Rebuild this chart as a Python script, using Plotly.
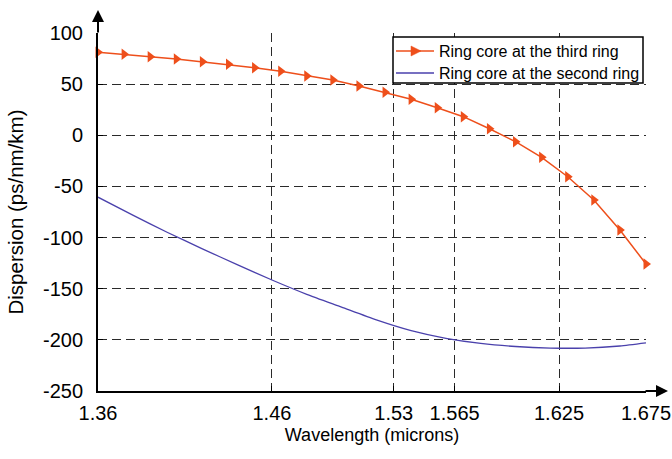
import plotly.graph_objects as go

# Data
wl_third = [1.36, 1.375, 1.39, 1.405, 1.42, 1.435, 1.45, 1.465, 1.48, 1.495, 1.51, 1.525,
            1.54, 1.555, 1.57, 1.585, 1.60, 1.615, 1.63, 1.645, 1.66, 1.675]
disp_third = [81.1, 79.2, 76.8, 74.6, 71.9, 69.4, 66.1, 62.6, 58.0, 54.1, 48.2, 42.0,
              35.2, 27.0, 18.2, 6.4, -6.3, -21.5, -40.5, -63.3, -92.6, -125.8]

wl_second = [1.36, 1.38, 1.40, 1.42, 1.44, 1.46, 1.48, 1.50, 1.52, 1.54, 1.56, 1.58,
             1.60, 1.62, 1.64, 1.66, 1.675]
disp_second = [-60.5, -78.0, -95.0, -111.0, -126.5, -141.5, -155.5, -168.0, -180.5, -191.0,
               -198.5, -203.5, -206.5, -208.0, -208.0, -206.0, -203.0]

series_names = ["Ring core at the third ring", "Ring core at the second ring"]

x_ticks = [1.36, 1.46, 1.53, 1.565, 1.625, 1.675]
x_tick_labels = ["1.36", "1.46", "1.53", "1.565", "1.625", "1.675"]
y_ticks = [100, 50, 0, -50, -100, -150, -200, -250]
y_tick_labels = ["100", "50", "0", "-50", "-100", "-150", "-200", "-250"]

FONT = "Liberation Sans, Arial, sans-serif"
RED = "#EE4F1B"
BLUE = "#4A41AC"

W, H = 672, 459
ML, MR, MT, MB = 98, 26, 33, 68
PW, PH = W - ML - MR, H - MT - MB


def px(xp):
    return (xp - ML) / PW


def py(yp):
    return (H - MB - yp) / PH


fig = go.Figure()
fig.add_trace(go.Scatter(
    x=wl_third, y=disp_third, mode="lines+markers",
    name=series_names[0],
    line=dict(color=RED, width=1.5),
    marker=dict(symbol="triangle-right", size=10, color=RED),
    cliponaxis=False, showlegend=False,
))
fig.add_trace(go.Scatter(
    x=wl_second, y=disp_second, mode="lines",
    name=series_names[1],
    line=dict(color=BLUE, width=1.3, shape="spline", smoothing=0.6),
    cliponaxis=False, showlegend=False,
))

fig.update_layout(
    width=W, height=H,
    margin=dict(l=ML, r=MR, t=MT, b=MB, autoexpand=False),
    paper_bgcolor="white", plot_bgcolor="white",
    font=dict(family=FONT, color="black"),
    showlegend=False,
)

fig.update_xaxes(
    range=[1.36, 1.675], tickvals=x_ticks, ticktext=x_tick_labels,
    automargin=False,
    showgrid=True, gridcolor="#2a2a2a", gridwidth=1.3, griddash="9px,5px",
    showline=True, linecolor="black", linewidth=2,
    ticks="inside", ticklen=5, tickcolor="black",
    ticklabelstandoff=3,
    tickfont=dict(size=20, family=FONT, color="black"),
    title=dict(text="Wavelength (microns)", font=dict(size=18, family=FONT, color="black"),
               standoff=5),
    zeroline=False,
)
fig.update_yaxes(
    range=[-250, 100], tickvals=y_ticks, ticktext=y_tick_labels,
    automargin=False,
    showgrid=True, gridcolor="#2a2a2a", gridwidth=1.3, griddash="9px,5px",
    showline=True, linecolor="black", linewidth=2,
    ticks="inside", ticklen=5, tickcolor="black",
    ticklabelstandoff=9,
    tickfont=dict(size=20, family=FONT, color="black"),
    title=dict(text="Dispersion (ps/nm/km)", font=dict(size=20.5, family=FONT, color="black"),
               standoff=14),
    zeroline=False,
)

# axis arrows
fig.add_annotation(x=0, y=py(10), xref="paper", yref="paper", ax=0, ay=24,
                   showarrow=True, arrowhead=2, arrowsize=1.2, arrowwidth=2,
                   arrowcolor="black", text="")
fig.add_annotation(x=px(668), y=0, xref="paper", yref="paper", ax=-24, ay=0,
                   showarrow=True, arrowhead=2, arrowsize=1.2, arrowwidth=2,
                   arrowcolor="black", text="")

# legend box (drawn manually to match the compact boxed legend)
fig.add_shape(type="rect", xref="paper", yref="paper",
              x0=px(393), x1=px(643), y0=py(83), y1=py(37),
              line=dict(color="black", width=1.5), fillcolor="white", layer="above")
rows = [51, 73]
colors = [RED, BLUE]
for r, c, name in zip(rows, colors, series_names):
    fig.add_shape(type="line", xref="paper", yref="paper",
                  x0=px(396), x1=px(434), y0=py(r), y1=py(r),
                  line=dict(color=c, width=1.5), layer="above")
    fig.add_annotation(x=px(437), y=py(r), xref="paper", yref="paper",
                       text=name, showarrow=False, xanchor="left", yanchor="middle",
                       font=dict(size=16, family=FONT, color="black"))
# legend marker for the third-ring series
mx, my = 415, rows[0]
fig.add_shape(type="path", xref="paper", yref="paper",
              path=(f"M {px(mx-4)} {py(my-5)} L {px(mx+6)} {py(my)} "
                    f"L {px(mx-4)} {py(my+5)} Z"),
              line=dict(color=RED, width=0.5), fillcolor=RED, layer="above")

fig.write_html("out.html", config={"displayModeBar": False},
               post_script="document.body.style.margin='0';")
